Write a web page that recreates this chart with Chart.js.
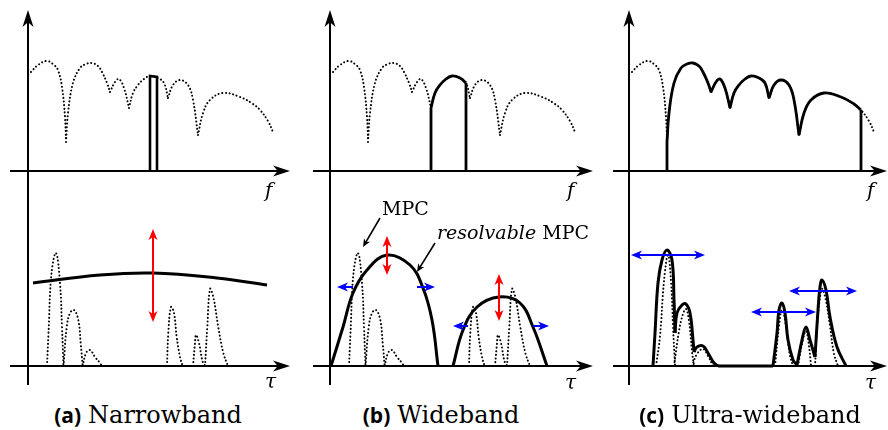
<!DOCTYPE html>
<html><head><meta charset="utf-8">
<script src="https://cdn.jsdelivr.net/npm/chart.js@4.4.1/dist/chart.umd.min.js"></script>
<style>
html,body{margin:0;padding:0;background:#fff}
body{width:888px;height:430px;position:relative;overflow:hidden}
canvas{position:absolute}
.t{position:absolute;font-family:'DejaVu Serif',serif;color:#000;white-space:nowrap;line-height:1}
.it{font-style:italic}
.cap{position:absolute;white-space:nowrap;line-height:1;transform:translateX(-50%);color:#000}
.cap b{font-family:'Open Sans',sans-serif;font-weight:700;font-size:21px;margin-right:3px}
.cap span{font-family:'DejaVu Serif',serif;font-size:24px}
</style></head><body>
<canvas id="ta" width="300" height="200" style="left:0;top:0"></canvas>
<canvas id="tb" width="300" height="200" style="left:300px;top:0"></canvas>
<canvas id="tc" width="300" height="200" style="left:588px;top:0"></canvas>
<canvas id="ba" width="300" height="200" style="left:0;top:200px"></canvas>
<canvas id="bb" width="300" height="200" style="left:300px;top:200px"></canvas>
<canvas id="bc" width="300" height="200" style="left:588px;top:200px"></canvas>

<div class="t it" style="left:265px;top:180px;font-size:20px">f</div>
<div class="t it" style="left:567px;top:180px;font-size:20px">f</div>
<div class="t it" style="left:867px;top:180px;font-size:20px">f</div>
<div class="t it" style="left:265px;top:371px;font-size:20px">τ</div>
<div class="t it" style="left:565px;top:372px;font-size:20px">τ</div>
<div class="t it" style="left:865px;top:372px;font-size:20px">τ</div>
<div class="t" style="left:382px;top:199px;font-size:19px">MPC</div>
<div class="t" style="left:437px;top:223px;font-size:19px"><i>resolvable</i> MPC</div>

<div class="cap" style="left:148px;top:403px"><b>(a)</b> <span>Narrowband</span></div>
<div class="cap" style="left:441px;top:403px"><b>(b)</b> <span>Wideband</span></div>
<div class="cap" style="left:750px;top:403px"><b>(c)</b> <span>Ultra-wideband</span></div>

<script>
// ---------- DATA ----------
// Channel transfer function |H(f)| (top row)
const specF = [3,10,19,26,30,34,37,38, 40,45,52,58,64,70,74,79,82, 87,91,96,101, 105,110,116,122,130,136,140, 145,152,160,165,170, 175,182,195,212,225,232,240,245];
const specA = [99,106,110,106,101,84,54,29, 58,88,103,107,108,105,99,88,79, 89,92,83,63, 78,86,92,95,93,88,73, 86,91,86,71,36, 58,71,78,74,67,61,50,39];
const specDips = [38,82,101,140,170];          // cusp frequencies
const narrowBandF = [122,129];                  // (a) narrowband slice
const narrowBandA = [95,94];
const wideBandF = [101,136];                    // (b) band edges
const uwbBandF = [38,232];                      // (c) band edges

// Multipath components (MPC) impulse profile, panels (a),(b)
const mpcT = [[19,20.5,23.5,28,32,34,35.5],[35.5,38.7,42,46,50.3,52.7,54.7],[54.7,58,62,67,72,74],[74,139],
              [139,140.3,143,146,148.7,152,154.7],[154.7,165],[165,167,168,171,175,178],[177,179.3,182,185.3,190.3,195.3,200]];
const mpcA = [[0,33,93,113,83,39,0],[0,39,53,56,46,23,0],[0,13,16,9,3,0],[0,0],
              [0,33,59,53,29,9,0],[0,0],[0,23,31,23,3,0],[0,39,77,69,39,13,0]];
// (a) narrowband impulse response
const nbT = [5,72,125,189,239];
const nbA = [83,91,93,88,81];
// (b) wideband resolvable MPCs
const wbT = [[1,13,23,37,57,80,93,102,108],[123,133,147,169,190,203,217]];
const wbA = [[0,39,73,96,111,101,78,46,0],[0,36,59,69,63,39,0]];
// (c) UWB solid responses
const uwbT = [[24,26,29,33,38,43,45,46],[46,48,53,57,61,64,65],[65,68,74,79,85,89],[89,144],
              [144,148,150,153,156,159,164,168],[168,173,177,181,186],[186,189,191,193,197,201,208,217]];
const uwbA = [[0,33,83,106,116,106,66,33],[33,53,61,62,53,26,14],[14,19,20,13,3,0],[0,0],
              [0,33,56,63,53,26,6,1],[1,26,39,26,9],[9,56,79,86,76,49,19,0]];
// (c) dotted MPCs
const uwbDotT = [[27,31,35,39,42,44,46],[45,50,54,57,60,63,65],[63,68,74,79,84],[84,146],
                 [146,150,153,157,161,164],[169,173,177,180,182],[186,189,193,197,201,205,209]];
const uwbDotA = [[0,30,85,111,85,40,0],[0,35,52,57,45,15,0],[0,12,17,10,0],[0,0],
                 [0,40,56,40,10,0],[0,22,35,20,0],[0,50,77,65,40,12,0]];
// arrows: [x1,y1,x2,y2,doubleHeaded]
const redA = [[125,44,125,137,1]];
const redB = [[57,91,57,130,1],[169,45,169,92,1]];
const blueB = [[23,79,7,79,0],[87,79,105,79,0],[138,40,123,40,0],[203,40,219,40,0]];
const blueC = [[2,111,76,111,1],[122,54,187,54,1],[160,75,228,75,1]];
const noteB = [[50,148,33,119,0],[105,123,87,94,0]];

// ---------- HELPERS ----------
const pts = (T,A) => T.map((t,i)=>({x:t,y:A[i]}));
function lobes(lo, hi){
  const out=[]; let cur=[];
  for(let i=0;i<specF.length;i++){
    const f=specF[i];
    if(f<lo||f>hi) continue;
    cur.push({x:f,y:specA[i]});
    if(specDips.includes(f) && cur.length>1){ out.push(cur); cur=[{x:f,y:specA[i]}]; }
  }
  if(cur.length>1) out.push(cur);
  return out;
}
const specAt = f => specA[specF.indexOf(f)];
const DOT = {borderWidth:2, borderDash:[0.1,3.6], borderCapStyle:'round', tension:0.4};
const SOL = {borderWidth:2.8, borderCapStyle:'butt', borderJoinStyle:'round', tension:0.4};
const ds = (data, st, extra) => Object.assign({data, borderColor:'#000', pointRadius:0, fill:false}, st, extra||{});

function head(ctx,x,y,ang,len,hw){
  const c=Math.cos(ang), s=Math.sin(ang);
  const P=(u,v)=>[x+u*c-v*s, y+u*s+v*c];
  ctx.beginPath();
  ctx.moveTo(...P(0,0)); ctx.lineTo(...P(-len,-hw)); ctx.lineTo(...P(-len*0.72,0)); ctx.lineTo(...P(-len,hw));
  ctx.closePath(); ctx.fill();
}
function arrow(ctx,x1,y1,x2,y2,both,color,lw,len,hw){
  const ang=Math.atan2(y2-y1,x2-x1), c=Math.cos(ang), s=Math.sin(ang);
  ctx.save(); ctx.strokeStyle=color; ctx.fillStyle=color; ctx.lineWidth=lw;
  ctx.beginPath();
  ctx.moveTo(x1+(both?c*len*0.6:0), y1+(both?s*len*0.6:0));
  ctx.lineTo(x2-c*len*0.6, y2-s*len*0.6); ctx.stroke();
  head(ctx,x2,y2,ang,len,hw);
  if(both) head(ctx,x1,y1,ang+Math.PI,len,hw);
  ctx.restore();
}
const deco = {
  id:'deco',
  beforeDatasetsDraw(chart,args,o){
    const ctx=chart.ctx, X=v=>chart.scales.x.getPixelForValue(v), Y=v=>chart.scales.y.getPixelForValue(v);
    ctx.save(); ctx.strokeStyle='#000'; ctx.fillStyle='#000'; ctx.lineWidth=2;
    ctx.beginPath(); ctx.moveTo(X(o.xAxis[0]),Y(0)); ctx.lineTo(X(o.xAxis[1])-10,Y(0)); ctx.stroke();
    head(ctx,X(o.xAxis[1]),Y(0),0,17,5.5);
    ctx.beginPath(); ctx.moveTo(X(0),Y(o.yAxis[0])); ctx.lineTo(X(0),Y(o.yAxis[1])+(o.yArrow?10:0)); ctx.stroke();
    if(o.yArrow) head(ctx,X(0),Y(o.yAxis[1]),-Math.PI/2,17,5.5);
    ctx.restore();
  },
  afterDatasetsDraw(chart,args,o){
    const ctx=chart.ctx, X=v=>chart.scales.x.getPixelForValue(v), Y=v=>chart.scales.y.getPixelForValue(v);
    for(const g of (o.arrows||[])){
      for(const a of g.list) arrow(ctx,X(a[0]),Y(a[1]),X(a[2]),Y(a[3]),a[4],g.color,g.lw,g.len,g.hw);
    }
  }
};
function make(id, xmin, xmax, ymin, ymax, datasets, decoOpts){
  return new Chart(document.getElementById(id), {
    type:'line',
    data:{datasets},
    options:{
      responsive:false, animation:false, devicePixelRatio:1, events:[],
      layout:{padding:0, autoPadding:false},
      scales:{
        x:{type:'linear', min:xmin, max:xmax, display:false},
        y:{type:'linear', min:ymin, max:ymax, display:false}
      },
      plugins:{legend:{display:false}, tooltip:{enabled:false}, deco:decoOpts}
    },
    plugins:[deco]
  });
}

// ---------- TOP ROW ----------
const topAxes = (x0,x1)=>({xAxis:[x0,x1], yAxis:[-29,161], yArrow:true});
// (a)
make('ta',-28,272,-29,171,[
  ...lobes(-1e9,1e9).map(l=>ds(l,DOT)),
  ds([{x:narrowBandF[0],y:0},{x:narrowBandF[0],y:narrowBandA[0]},{x:narrowBandF[1],y:narrowBandA[1]},{x:narrowBandF[1],y:0}],SOL,{tension:0,borderWidth:2.6,borderJoinStyle:'miter'})
], topAxes(-18,262));
// (b)
make('tb',-30,270,-29,171,[
  ...lobes(-1e9,1e9).map(l=>ds(l,DOT)),
  ...lobes(wideBandF[0],wideBandF[1]).map(l=>ds(l,SOL)),
  ds([{x:wideBandF[0],y:0},{x:wideBandF[0],y:specAt(wideBandF[0])}],SOL,{tension:0}),
  ds([{x:wideBandF[1],y:0},{x:wideBandF[1],y:specAt(wideBandF[1])}],SOL,{tension:0})
], topAxes(-17,263));
// (c)
make('tc',-41,259,-29,171,[
  ...lobes(-1e9,1e9).map(l=>ds(l,DOT)),
  ...lobes(uwbBandF[0],uwbBandF[1]).map(l=>ds(l,SOL)),
  ds([{x:uwbBandF[0],y:0},{x:uwbBandF[0],y:specAt(uwbBandF[0])}],SOL,{tension:0}),
  ds([{x:uwbBandF[1],y:0},{x:uwbBandF[1],y:specAt(uwbBandF[1])}],SOL,{tension:0})
], topAxes(-16,258));

// ---------- BOTTOM ROW ----------
const botAxes = (x0,x1,arrows)=>({xAxis:[x0,x1], yAxis:[166,-19], yArrow:false, arrows});
const mpcDs = () => mpcT.map((T,i)=>ds(pts(T,mpcA[i]),DOT));
make('ba',-28,272,-34,166,[
  ...mpcDs(),
  ds(pts(nbT,nbA),SOL,{borderWidth:3})
], botAxes(-18,262,[{list:redA,color:'#ff0000',lw:2,len:11,hw:4.5}]));
make('bb',-30,270,-34,166,[
  ...mpcDs(),
  ...wbT.map((T,i)=>ds(pts(T,wbA[i]),SOL,{borderWidth:3}))
], botAxes(-17,263,[
  {list:redB,color:'#ff0000',lw:2,len:11,hw:4.5},
  {list:blueB,color:'#0000ff',lw:2,len:11,hw:4.5},
  {list:noteB,color:'#000',lw:1.6,len:8,hw:3.5}
]));
make('bc',-41,259,-34,166,[
  ...uwbDotT.map((T,i)=>ds(pts(T,uwbDotA[i]),DOT)),
  ...uwbT.map((T,i)=>ds(pts(T,uwbA[i]),SOL,{borderWidth:3}))
], botAxes(-16,258,[{list:blueC,color:'#0000ff',lw:2,len:11,hw:4.5}]));
</script>
</body></html>
